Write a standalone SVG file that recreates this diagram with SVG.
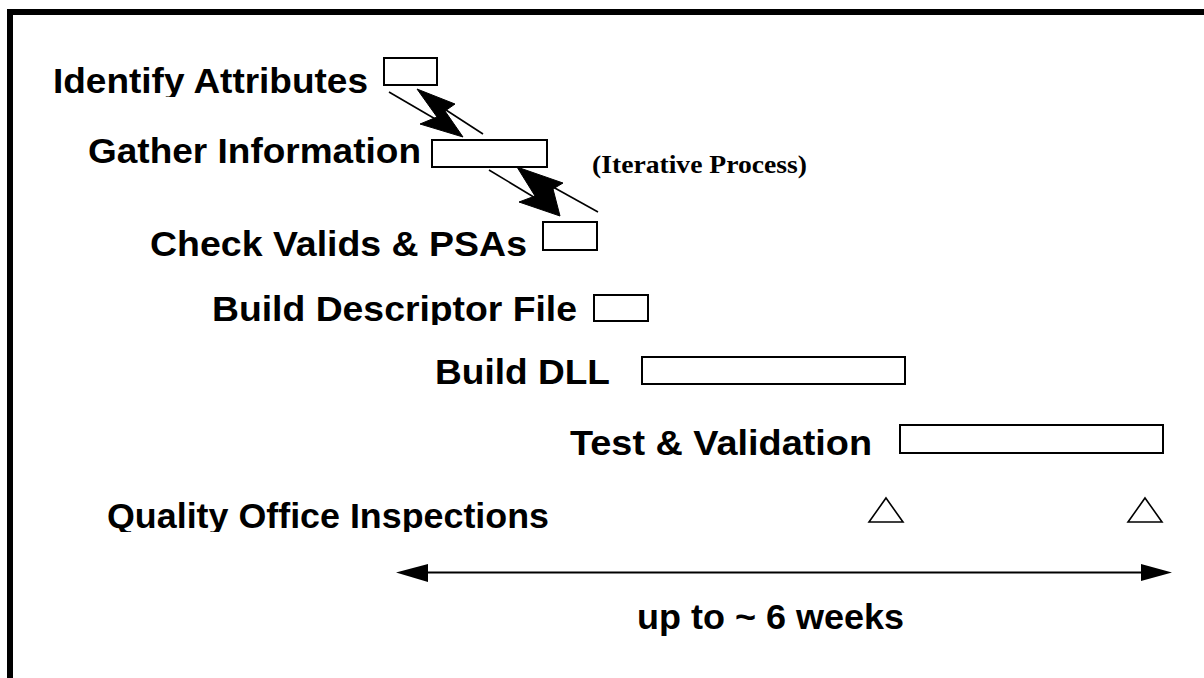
<svg xmlns="http://www.w3.org/2000/svg" width="1204" height="678" viewBox="0 0 1204 678">
  <style>
    .lbl { font-family: "Liberation Sans", Arial, sans-serif; font-weight: bold; font-size: 35px; fill: #000; }
    .note { font-family: "Liberation Serif", "Times New Roman", serif; font-weight: bold; font-size: 26px; fill: #000; }
    .bar { fill: #fff; stroke: #000; stroke-width: 2; }
    .ms { fill: #fff; stroke: #000; stroke-width: 1.6; stroke-linejoin: miter; }
    .wire { stroke: #000; stroke-width: 1.6; fill: none; }
    .bolt { fill: #000; stroke: #000; stroke-width: 1; stroke-linejoin: miter; }
  </style>
  <defs>
    <clipPath id="clipRow1"><rect x="0" y="0" width="1204" height="97"/></clipPath>
    <clipPath id="clipRow4"><rect x="0" y="0" width="1204" height="325"/></clipPath>
    <clipPath id="clipRow7"><rect x="0" y="0" width="1204" height="532"/></clipPath>
  </defs>

  <rect width="1204" height="678" fill="#fff"/>

  <!-- page frame -->
  <path d="M10,678 V12 H1204" fill="none" stroke="#000" stroke-width="6"/>

  <!-- tasks -->
  <g id="identify-attributes">
    <text class="lbl" x="53" y="93" textLength="315" lengthAdjust="spacingAndGlyphs" clip-path="url(#clipRow1)">Identify Attributes</text>
    <rect class="bar" x="384" y="58" width="53" height="27"/>
  </g>
  <g id="gather-information">
    <text class="lbl" x="88" y="163" textLength="333" lengthAdjust="spacingAndGlyphs">Gather Information</text>
    <rect class="bar" x="432" y="140" width="115" height="27"/>
  </g>
  <g id="iterative-note">
    <text class="note" x="592" y="173" textLength="215" lengthAdjust="spacingAndGlyphs">(Iterative Process)</text>
  </g>
  <g id="check-valids">
    <text class="lbl" x="150" y="256" textLength="377" lengthAdjust="spacingAndGlyphs">Check Valids &amp; PSAs</text>
    <rect class="bar" x="543" y="222" width="54" height="28"/>
  </g>
  <g id="build-descriptor">
    <text class="lbl" x="212" y="321" textLength="365" lengthAdjust="spacingAndGlyphs" clip-path="url(#clipRow4)">Build Descriptor File</text>
    <rect class="bar" x="594" y="295" width="54" height="26"/>
  </g>
  <g id="build-dll">
    <text class="lbl" x="435" y="384" textLength="175" lengthAdjust="spacingAndGlyphs">Build DLL</text>
    <rect class="bar" x="642" y="357" width="263" height="27"/>
  </g>
  <g id="test-validation">
    <text class="lbl" x="570" y="455" textLength="302" lengthAdjust="spacingAndGlyphs">Test &amp; Validation</text>
    <rect class="bar" x="900" y="425" width="263" height="28"/>
  </g>
  <g id="quality-inspections">
    <text class="lbl" x="107" y="528" textLength="442" lengthAdjust="spacingAndGlyphs" clip-path="url(#clipRow7)">Quality Office Inspections</text>
    <polygon class="ms" points="886,498 903,522 869,522"/>
    <polygon class="ms" points="1145,498 1162,522 1128,522"/>
  </g>
  <g id="duration">
    <text class="lbl" x="637" y="629" textLength="267" lengthAdjust="spacingAndGlyphs">up to ~ 6 weeks</text>
  </g>

  <!-- connectors -->
  <g id="connectors">
    <!-- iteration between Identify and Gather: two opposing leads joined by a lightning double head -->
    <line class="wire" x1="389" y1="92" x2="437" y2="120"/>
    <line class="wire" x1="483" y1="134" x2="446" y2="110"/>
    <polygon class="bolt" points="417,89 455,104 445,111 463,137 420,124 437,117"/>
    <!-- iteration between Gather and Check -->
    <line class="wire" x1="489" y1="170" x2="537" y2="199"/>
    <line class="wire" x1="598" y1="212" x2="553" y2="187"/>
    <polygon class="bolt" points="517,167 563,183 553,189 560,216 519,202 535,196"/>
    <!-- overall span -->
    <line x1="426" y1="572.5" x2="1143" y2="572.5" stroke="#000" stroke-width="2"/>
    <polygon points="396,572.5 428,564 428,582" fill="#000"/>
    <polygon points="1172,572.5 1141,564 1141,581" fill="#000"/>
  </g>
</svg>
